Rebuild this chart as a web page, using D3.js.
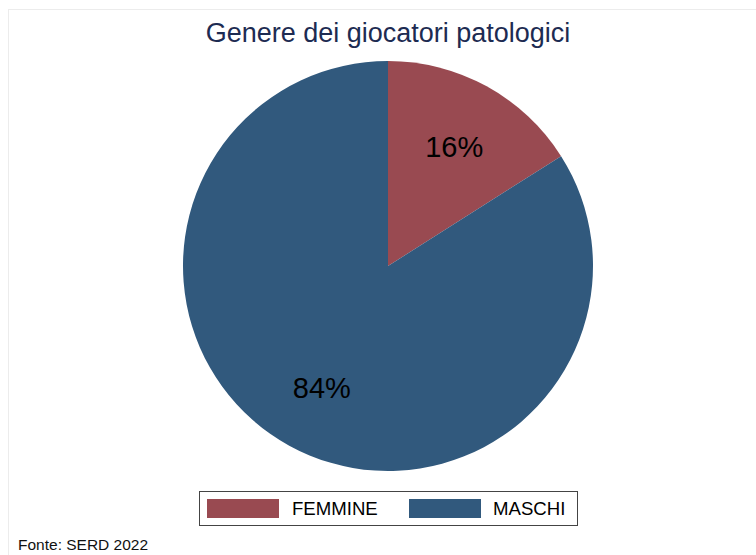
<!DOCTYPE html>
<html lang="it">
<head>
<meta charset="UTF-8">
<title>Genere dei giocatori patologici</title>
<style>
  body { margin: 0; background: #fff; }
  svg text { font-family: "Liberation Sans", Arial, Helvetica, sans-serif; }
</style>
</head>
<body>
<svg id="chart" width="756" height="555"></svg>
<script src="https://d3js.org/d3.v7.min.js"></script>
<script>
// data
var categories = ["FEMMINE", "MASCHI"];
var values = [16, 84];
var colors = ["#994a51", "#31597d"];

var svg = d3.select("#chart"),
    width = 756,
    height = 555,
    cx = 388,
    cy = 266,
    r = 205;

// light frame
svg.append("rect")
    .attr("x", 8.5).attr("y", 9.5)
    .attr("width", width).attr("height", height)
    .attr("fill", "none")
    .attr("stroke", "#ececec");

svg.append("text")
    .attr("x", cx).attr("y", 42)
    .attr("text-anchor", "middle")
    .attr("font-size", 27)
    .attr("fill", "#1d2b52")
    .text("Genere dei giocatori patologici");

var pie = d3.pie().sort(null).value(function (d) { return d; });
var arc = d3.arc().innerRadius(0).outerRadius(r);
var labelArc = d3.arc().innerRadius(r * 0.67).outerRadius(r * 0.67);

var g = svg.append("g").attr("transform", "translate(" + cx + "," + cy + ")");
var arcs = pie(values);

g.selectAll("path")
    .data(arcs)
    .enter().append("path")
    .attr("d", arc)
    .attr("fill", function (d, i) { return colors[i]; });

g.selectAll("text")
    .data(arcs)
    .enter().append("text")
    .attr("transform", function (d) { return "translate(" + labelArc.centroid(d) + ")"; })
    .attr("text-anchor", "middle")
    .attr("dy", "0.4em")
    .attr("font-size", 29)
    .attr("fill", "#000")
    .text(function (d) { return d.data + "%"; });

// legend
var legend = svg.append("g");
legend.append("rect")
    .attr("x", 199.5).attr("y", 491.5)
    .attr("width", 378).attr("height", 34)
    .attr("fill", "#fff")
    .attr("stroke", "#444").attr("stroke-width", 1);

var items = [
    {x: 207, tx: 292},
    {x: 409, tx: 493}
];
categories.forEach(function (c, i) {
    legend.append("rect")
        .attr("x", items[i].x).attr("y", 499)
        .attr("width", 72).attr("height", 19)
        .attr("fill", colors[i]);
    legend.append("text")
        .attr("x", items[i].tx).attr("y", 515)
        .attr("font-size", 18.6)
        .attr("fill", "#000")
        .text(c);
});

svg.append("text")
    .attr("x", 18).attr("y", 550)
    .attr("font-size", 15.5)
    .attr("fill", "#111")
    .text("Fonte: SERD 2022");
</script>
</body>
</html>
